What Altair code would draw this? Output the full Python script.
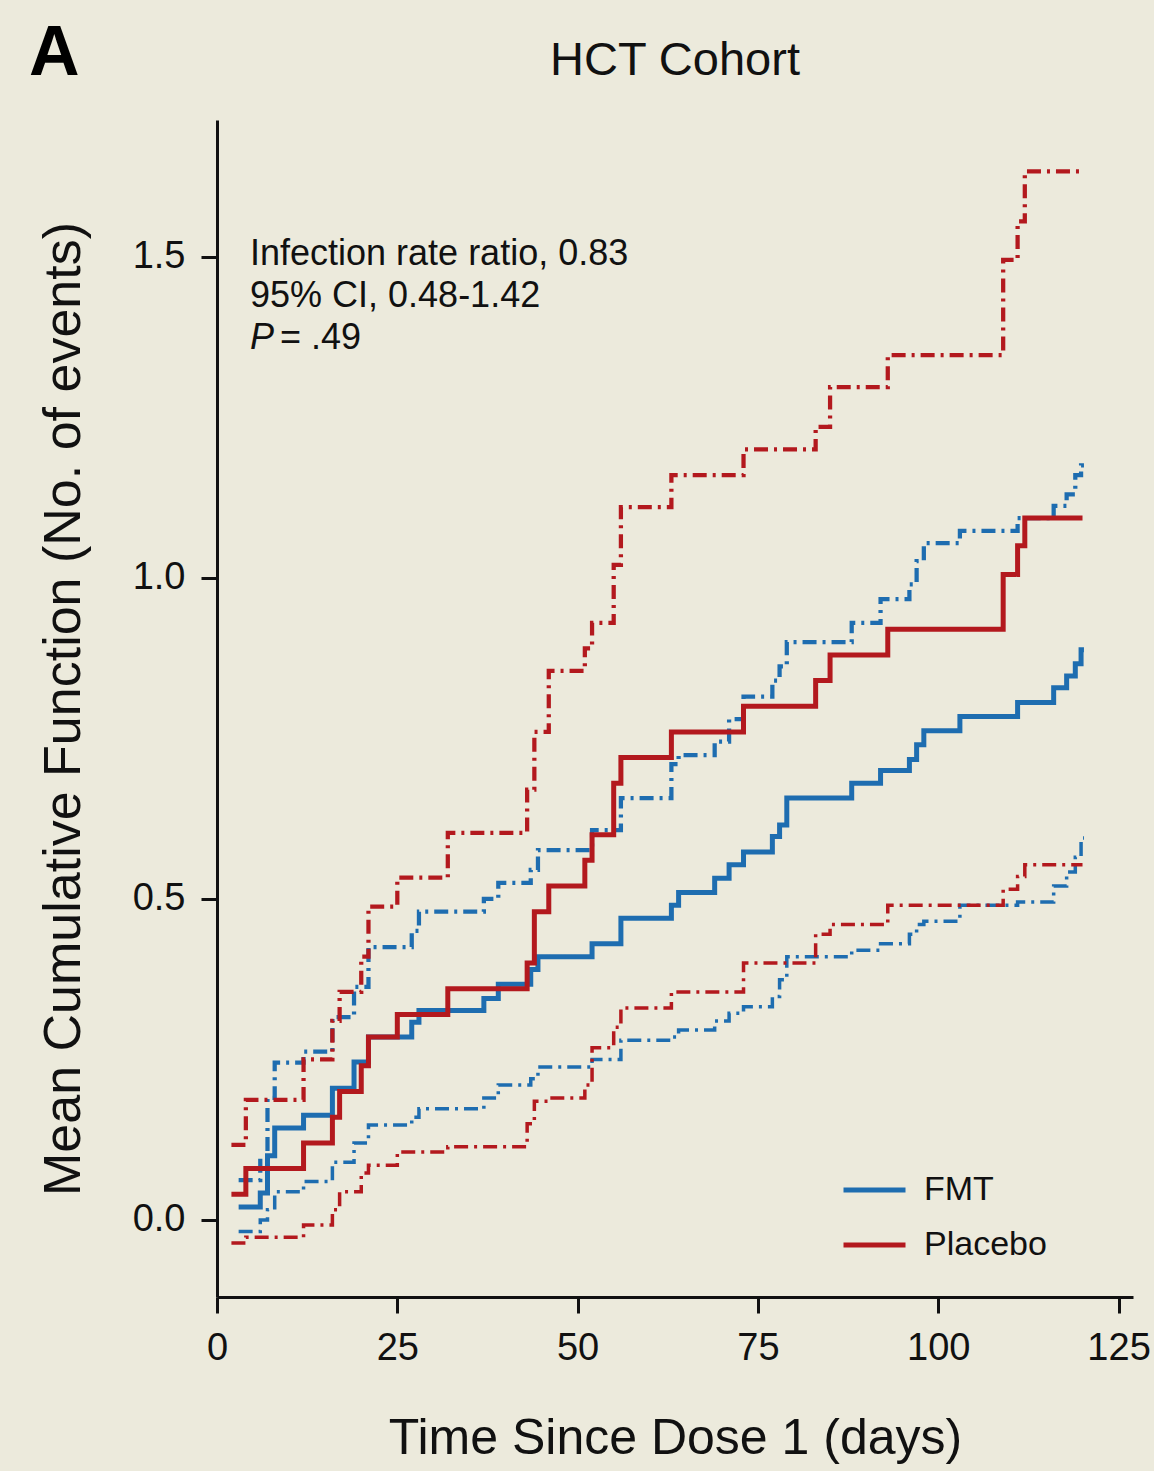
import altair as alt
import pandas as pd

BLUE = "#1E6DB0"
RED = "#B3191E"
BG = "#ECEADC"

# ---- data ----
fmt_x = [3, 6, 7, 8, 12, 16, 19, 21, 27, 28,
         37, 39, 43.5, 44.5, 52, 56, 63, 64, 69, 71,
         73, 77, 78, 79, 88, 92, 96, 97, 98, 103,
         111, 116, 117.8, 119, 119.8, 120.2]
fmt_est = [0.02, 0.042, 0.10, 0.143, 0.163, 0.205, 0.246, 0.285, 0.308, 0.326,
           0.345, 0.367, 0.39, 0.41, 0.43, 0.47, 0.49, 0.51, 0.532, 0.553,
           0.573, 0.597, 0.615, 0.657, 0.68, 0.70, 0.717, 0.74, 0.762, 0.784,
           0.806, 0.829, 0.847, 0.866, 0.888, 0.888]
fmt_upper = [0.062, 0.097, 0.19, 0.245, 0.262, 0.316, 0.363, 0.425, 0.45, 0.48,
             0.50, 0.525, 0.545, 0.576, 0.607, 0.657, 0.71, 0.724, 0.745, 0.78,
             0.815, 0.84, 0.862, 0.90, 0.93, 0.967, 0.99, 1.026, 1.054, 1.073,
             1.093, 1.112, 1.13, 1.16, 1.175, 1.175]
fmt_lower = [-0.018, 0.0, 0.016, 0.044, 0.06, 0.09, 0.12, 0.148, 0.16, 0.173,
             0.19, 0.21, 0.22, 0.238, 0.25, 0.28, 0.285, 0.296, 0.31, 0.322,
             0.332, 0.348, 0.374, 0.41, 0.42, 0.43, 0.445, 0.46, 0.465, 0.49,
             0.495, 0.52, 0.542, 0.565, 0.595, 0.595]

plc_x = [2, 4, 12, 16, 17, 20, 21, 25, 32, 43,
         44, 46, 51, 52, 55, 56, 63, 73, 83, 85,
         93, 109, 111, 112, 120]
plc_est = [0.04, 0.08, 0.12, 0.16, 0.20, 0.24, 0.285, 0.32, 0.36, 0.40,
           0.48, 0.52, 0.56, 0.60, 0.68, 0.72, 0.76, 0.80, 0.84, 0.88,
           0.92, 1.005, 1.05, 1.093, 1.093]
plc_upper = [0.117, 0.187, 0.25, 0.31, 0.355, 0.41, 0.488, 0.533, 0.603, 0.67,
             0.76, 0.855, 0.89, 0.93, 1.02, 1.11, 1.16, 1.20, 1.235, 1.297,
             1.347, 1.495, 1.555, 1.633, 1.633]
plc_lower = [-0.036, -0.027, -0.008, 0.016, 0.044, 0.073, 0.085, 0.106, 0.114, 0.15,
             0.185, 0.19, 0.21, 0.268, 0.30, 0.33, 0.355, 0.40, 0.445, 0.46,
             0.49, 0.515, 0.535, 0.553, 0.553]

groups = ["FMT", "Placebo"]
kinds = ["est", "upper", "lower"]
x_ticks = [0, 25, 50, 75, 100, 125]
y_ticks = [0.0, 0.5, 1.0, 1.5]

annot_lines = ["Infection rate ratio, 0.83", "95% CI, 0.48-1.42"]
p_label = "P"
p_value = "= .49"
title_text = "HCT Cohort"
panel_letter = "A"

# ---- table ----
rows = []
series = {
    ("FMT", "upper"): (fmt_x, fmt_upper),
    ("FMT", "lower"): (fmt_x, fmt_lower),
    ("Placebo", "upper"): (plc_x, plc_upper),
    ("Placebo", "lower"): (plc_x, plc_lower),
    ("FMT", "est"): (fmt_x, fmt_est),
    ("Placebo", "est"): (plc_x, plc_est),
}
for (g, k), (xs, ys) in series.items():
    for xv, yv in zip(xs, ys):
        rows.append({"group": g, "kind": k, "series": g + "-" + k, "t": xv, "v": yv})
df = pd.DataFrame(rows)

LAB_FONT = "Liberation Sans"
INK = "#111111"

lines = alt.Chart(df).mark_line(interpolate="step-after", strokeJoin="miter", strokeCap="butt").encode(
    x=alt.X("t:Q", scale=alt.Scale(domain=[0, 127], nice=False, zero=False),
            axis=alt.Axis(values=x_ticks, format="d", title="Time Since Dose 1 (days)", labelFlush=False,
                          titleFontSize=50)),
    y=alt.Y("v:Q", scale=alt.Scale(domain=[-0.12, 1.713], nice=False, zero=False),
            axis=alt.Axis(values=y_ticks, format=".1f", title="Mean Cumulative Function (No. of events)",
                          labelFlush=False)),
    color=alt.Color("group:N", scale=alt.Scale(domain=groups, range=[BLUE, RED]),
                    legend=alt.Legend(title=None, orient="none", legendX=624, legendY=1050,
                                      symbolType="stroke", symbolSize=3844, symbolStrokeWidth=5,
                                      labelFontSize=34, labelFont=LAB_FONT, labelColor=INK,
                                      labelOffset=16, clipHeight=40, rowPadding=15, padding=0)),
    strokeDash=alt.StrokeDash("kind:N", scale=alt.Scale(domain=kinds, range=[[1, 0], [14, 6, 3, 6], [14, 6, 3, 6]]),
                              legend=None),
    strokeWidth=alt.StrokeWidth("kind:N", scale=alt.Scale(domain=kinds, range=[5, 3.5, 3.5]), legend=None),
    detail="series:N",
)

annot = alt.Chart(pd.DataFrame({"txt": ["\n".join(annot_lines)]})).mark_text(
    align="left", baseline="alphabetic", fontSize=36, font=LAB_FONT, color=INK, lineHeight=42, lineBreak="\n"
).encode(text="txt:N", x=alt.value(33), y=alt.value(145))

p_italic = alt.Chart(pd.DataFrame({"txt": [p_label]})).mark_text(
    align="left", baseline="alphabetic", fontSize=36, font=LAB_FONT, fontStyle="italic", color=INK
).encode(text="txt:N", x=alt.value(33), y=alt.value(229))

p_val = alt.Chart(pd.DataFrame({"txt": [p_value]})).mark_text(
    align="left", baseline="alphabetic", fontSize=36, font=LAB_FONT, color=INK
).encode(text="txt:N", x=alt.value(63), y=alt.value(229))

title = alt.Chart(pd.DataFrame({"txt": [title_text]})).mark_text(
    align="center", baseline="alphabetic", fontSize=47, font=LAB_FONT, color=INK
).encode(text="txt:N", x=alt.value(458), y=alt.value(-45))

letter = alt.Chart(pd.DataFrame({"txt": [panel_letter]})).mark_text(
    align="left", baseline="alphabetic", fontSize=70, font=LAB_FONT, fontWeight="bold", color="#000000"
).encode(text="txt:N", x=alt.value(-188), y=alt.value(-45))

chart = alt.layer(lines, annot, p_italic, p_val, title, letter).properties(
    width=916, height=1177,
    autosize=alt.AutoSizeParams(type="none"),
    padding={"left": 217, "top": 120, "right": 21, "bottom": 174},
    background=BG,
).configure_view(stroke=None).configure_axis(
    grid=False,
    domainColor=INK, domainWidth=3,
    tickColor=INK, tickWidth=3, tickSize=16,
    labelFont=LAB_FONT, labelFontSize=38, labelColor=INK, labelPadding=16,
    titleFont=LAB_FONT, titleFontSize=52, titleFontWeight="normal", titleColor=INK,
).configure_axisX(titlePadding=46).configure_axisY(titlePadding=42)

chart.save("out.html", embed_options={"renderer": "svg", "actions": False})
